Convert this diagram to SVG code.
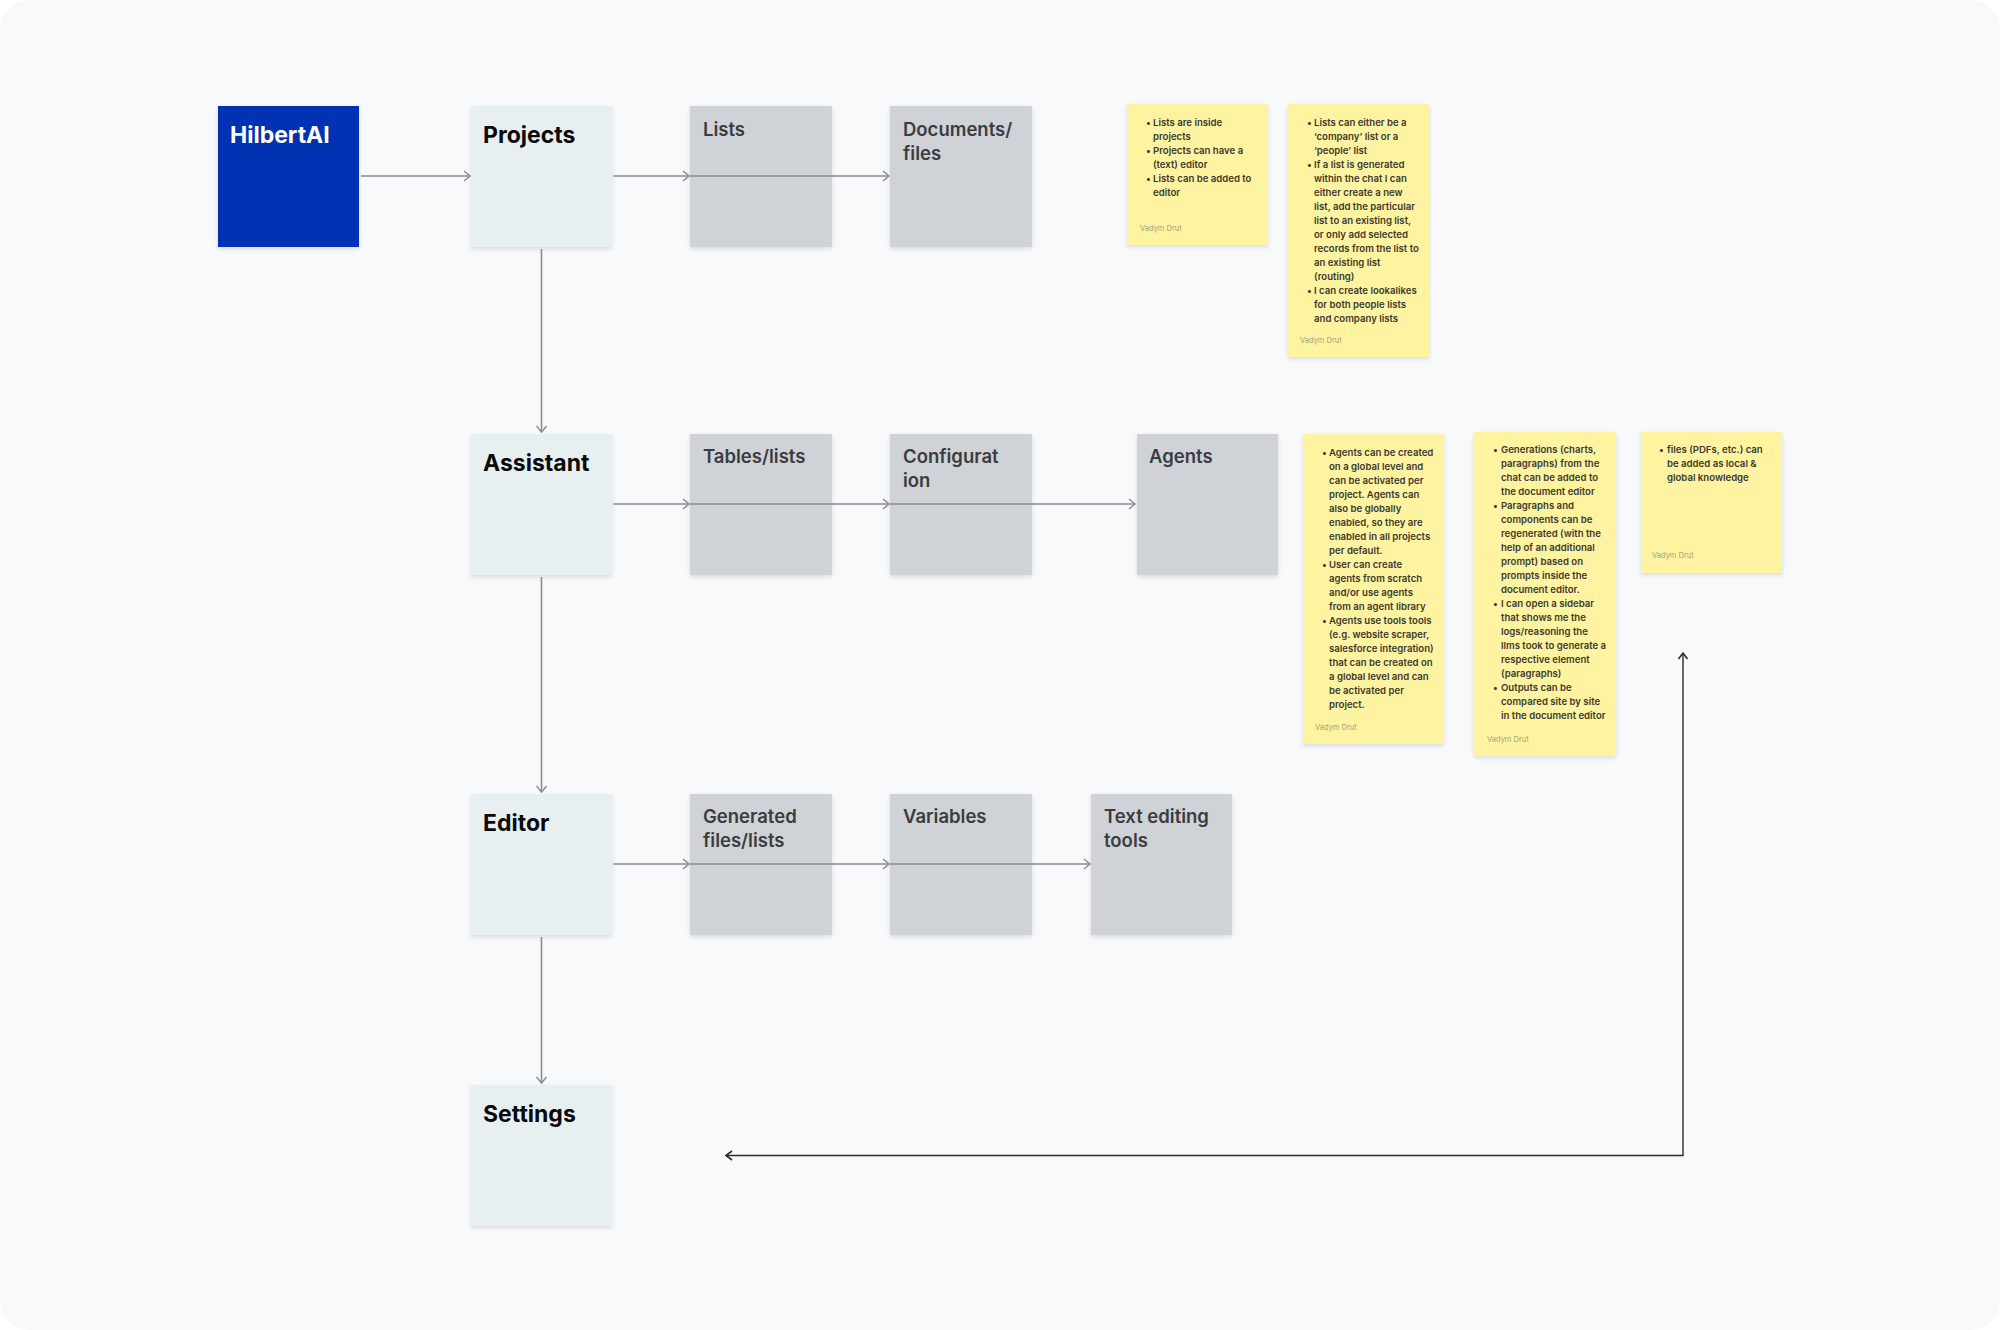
<svg xmlns="http://www.w3.org/2000/svg" width="2000" height="1330" viewBox="0 0 2000 1330">
<style>
.main{font-family:Inter,"Liberation Sans",sans-serif;font-weight:700;font-size:23px;fill:#0a0a0a}
.sub{font-family:Inter,"Liberation Sans",sans-serif;font-weight:600;font-size:18.5px;fill:#3a3c3f}
.st{font-family:Inter,"Liberation Sans",sans-serif;font-weight:600;font-size:9.6px;fill:#3c3a2c}
.au{font-family:Inter,"Liberation Sans",sans-serif;font-size:7.5px;fill:#a8a27a}
.lb{fill:#e8eff1;filter:url(#sh)}
.gb{fill:#cfd2d6;filter:url(#sh)}
.sn{fill:#fdf3a1;filter:url(#sh)}
.c{fill:none;stroke:#8a8c8f;stroke-width:1.6}
.cd{fill:none;stroke:#2b2b2b;stroke-width:1.4}
</style>
<defs>
<filter id="sh" x="-10%" y="-10%" width="120%" height="125%">
<feDropShadow dx="0" dy="2" stdDeviation="2" flood-color="#000" flood-opacity="0.12"/>
</filter>
<marker id="ag" markerWidth="10" markerHeight="12" refX="7" refY="6" orient="auto" markerUnits="userSpaceOnUse">
<path d="M1,1 L7,6 L1,11" fill="none" stroke="#8a8c8f" stroke-width="1.5"/>
</marker>
<marker id="ad" markerWidth="10" markerHeight="12" refX="7" refY="6" orient="auto" markerUnits="userSpaceOnUse">
<path d="M1,1.5 L7,6 L1,10.5" fill="none" stroke="#2b2b2b" stroke-width="1.6"/>
</marker>
<marker id="ads" markerWidth="10" markerHeight="12" refX="7" refY="6" orient="auto-start-reverse" markerUnits="userSpaceOnUse">
<path d="M1,1.5 L7,6 L1,10.5" fill="none" stroke="#2b2b2b" stroke-width="1.6"/>
</marker>
</defs>
<rect width="2000" height="1330" fill="#ffffff"/>
<rect width="2000" height="1330" rx="30" fill="#f8f9fb"/>

<g id="hilbertai"><rect x="218" y="106" width="141" height="141" fill="#0033b3" filter="url(#sh)"/><text x="230" y="143" class="main" style="fill:#fff">HilbertAI</text></g>
<g id="projects"><rect class="lb" x="471" y="106" width="141" height="141"/><text x="483" y="143" class="main">Projects</text></g>
<g id="lists"><rect class="gb" x="690" y="106" width="142" height="141"/><text x="703" y="136" class="sub">Lists</text></g>
<g id="documents"><rect class="gb" x="890" y="106" width="142" height="141"/><text x="903" y="136" class="sub">Documents/<tspan x="903" dy="24">files</tspan></text></g>

<g id="assistant"><rect class="lb" x="471" y="434" width="141" height="141"/><text x="483" y="471" class="main">Assistant</text></g>
<g id="tables"><rect class="gb" x="690" y="434" width="142" height="141"/><text x="703" y="463" class="sub">Tables/lists</text></g>
<g id="configuration"><rect class="gb" x="890" y="434" width="142" height="141"/><text x="903" y="463" class="sub">Configurat<tspan x="903" dy="24">ion</tspan></text></g>
<g id="agents"><rect class="gb" x="1137" y="434" width="141" height="141"/><text x="1149" y="463" class="sub">Agents</text></g>

<g id="editor"><rect class="lb" x="471" y="794" width="141" height="141"/><text x="483" y="831" class="main">Editor</text></g>
<g id="generated"><rect class="gb" x="690" y="794" width="142" height="141"/><text x="703" y="823" class="sub">Generated<tspan x="703" dy="24">files/lists</tspan></text></g>
<g id="variables"><rect class="gb" x="890" y="794" width="142" height="141"/><text x="903" y="823" class="sub">Variables</text></g>
<g id="textediting"><rect class="gb" x="1091" y="794" width="141" height="141"/><text x="1104" y="823" class="sub">Text editing<tspan x="1104" dy="24">tools</tspan></text></g>

<g id="settings"><rect class="lb" x="471" y="1085" width="141" height="141"/><text x="483" y="1122" class="main">Settings</text></g>

<g id="note1"><rect class="sn" x="1127" y="104" width="141" height="141"/>
<text class="st" x="1146" y="126">•<tspan x="1146" dy="28">•</tspan><tspan x="1146" dy="28">•</tspan></text>
<text class="st" x="1153" y="126">Lists are inside<tspan x="1153" dy="14">projects</tspan><tspan x="1153" dy="14">Projects can have a</tspan><tspan x="1153" dy="14">(text) editor</tspan><tspan x="1153" dy="14">Lists can be added to</tspan><tspan x="1153" dy="14">editor</tspan></text>
<text class="au" x="1140" y="231">Vadym Drut</text></g>

<g id="note2"><rect class="sn" x="1288" y="104" width="141" height="253"/>
<text class="st" x="1307" y="126">•<tspan x="1307" dy="42">•</tspan><tspan x="1307" dy="126">•</tspan></text>
<text class="st" x="1314" y="126">Lists can either be a<tspan x="1314" dy="14">‘company’ list or a</tspan><tspan x="1314" dy="14">‘people’ list</tspan><tspan x="1314" dy="14">If a list is generated</tspan><tspan x="1314" dy="14">within the chat I can</tspan><tspan x="1314" dy="14">either create a new</tspan><tspan x="1314" dy="14">list, add the particular</tspan><tspan x="1314" dy="14">list to an existing list,</tspan><tspan x="1314" dy="14">or only add selected</tspan><tspan x="1314" dy="14">records from the list to</tspan><tspan x="1314" dy="14">an existing list</tspan><tspan x="1314" dy="14">(routing)</tspan><tspan x="1314" dy="14">I can create lookalikes</tspan><tspan x="1314" dy="14">for both people lists</tspan><tspan x="1314" dy="14">and company lists</tspan></text>
<text class="au" x="1300" y="343">Vadym Drut</text></g>

<g id="note3"><rect class="sn" x="1303" y="434" width="141" height="310"/>
<text class="st" x="1322" y="456">•<tspan x="1322" dy="112">•</tspan><tspan x="1322" dy="56">•</tspan></text>
<text class="st" x="1329" y="456">Agents can be created<tspan x="1329" dy="14">on a global level and</tspan><tspan x="1329" dy="14">can be activated per</tspan><tspan x="1329" dy="14">project. Agents can</tspan><tspan x="1329" dy="14">also be globally</tspan><tspan x="1329" dy="14">enabled, so they are</tspan><tspan x="1329" dy="14">enabled in all projects</tspan><tspan x="1329" dy="14">per default.</tspan><tspan x="1329" dy="14">User can create</tspan><tspan x="1329" dy="14">agents from scratch</tspan><tspan x="1329" dy="14">and/or use agents</tspan><tspan x="1329" dy="14">from an agent library</tspan><tspan x="1329" dy="14">Agents use tools tools</tspan><tspan x="1329" dy="14">(e.g. website scraper,</tspan><tspan x="1329" dy="14">salesforce integration)</tspan><tspan x="1329" dy="14">that can be created on</tspan><tspan x="1329" dy="14">a global level and can</tspan><tspan x="1329" dy="14">be activated per</tspan><tspan x="1329" dy="14">project.</tspan></text>
<text class="au" x="1315" y="730">Vadym Drut</text></g>

<g id="note4"><rect class="sn" x="1474" y="432" width="142" height="324"/>
<text class="st" x="1493" y="453">•<tspan x="1493" dy="56">•</tspan><tspan x="1493" dy="98">•</tspan><tspan x="1493" dy="84">•</tspan></text>
<text class="st" x="1501" y="453">Generations (charts,<tspan x="1501" dy="14">paragraphs) from the</tspan><tspan x="1501" dy="14">chat can be added to</tspan><tspan x="1501" dy="14">the document editor</tspan><tspan x="1501" dy="14">Paragraphs and</tspan><tspan x="1501" dy="14">components can be</tspan><tspan x="1501" dy="14">regenerated (with the</tspan><tspan x="1501" dy="14">help of an additional</tspan><tspan x="1501" dy="14">prompt) based on</tspan><tspan x="1501" dy="14">prompts inside the</tspan><tspan x="1501" dy="14">document editor.</tspan><tspan x="1501" dy="14">I can open a sidebar</tspan><tspan x="1501" dy="14">that shows me the</tspan><tspan x="1501" dy="14">logs/reasoning the</tspan><tspan x="1501" dy="14">llms took to generate a</tspan><tspan x="1501" dy="14">respective element</tspan><tspan x="1501" dy="14">(paragraphs)</tspan><tspan x="1501" dy="14">Outputs can be</tspan><tspan x="1501" dy="14">compared site by site</tspan><tspan x="1501" dy="14">in the document editor</tspan></text>
<text class="au" x="1487" y="742">Vadym Drut</text></g>

<g id="note5"><rect class="sn" x="1641" y="432" width="141" height="141"/>
<text class="st" x="1659" y="453">•</text>
<text class="st" x="1667" y="453">files (PDFs, etc.) can<tspan x="1667" dy="14">be added as local &amp;</tspan><tspan x="1667" dy="14">global knowledge</tspan></text>
<text class="au" x="1652" y="558">Vadym Drut</text></g>

<g id="connectors">
<path class="c" d="M361,176 H470" marker-end="url(#ag)"/>
<path class="c" d="M613,176 H689" marker-end="url(#ag)"/>
<path class="c" d="M690,176 H889" marker-end="url(#ag)"/>
<path class="c" d="M613,504 H689" marker-end="url(#ag)"/>
<path class="c" d="M690,504 H889" marker-end="url(#ag)"/>
<path class="c" d="M890,504 H1135" marker-end="url(#ag)"/>
<path class="c" d="M613,864 H689" marker-end="url(#ag)"/>
<path class="c" d="M690,864 H889" marker-end="url(#ag)"/>
<path class="c" d="M890,864 H1090" marker-end="url(#ag)"/>
<path class="c" d="M541.5,249 V432" marker-end="url(#ag)"/>
<path class="c" d="M541.5,577 V792" marker-end="url(#ag)"/>
<path class="c" d="M541.5,937 V1083" marker-end="url(#ag)"/>
<path class="cd" d="M1683,653 V1155.5 H726" marker-start="url(#ads)" marker-end="url(#ad)"/>
</g>
</svg>
